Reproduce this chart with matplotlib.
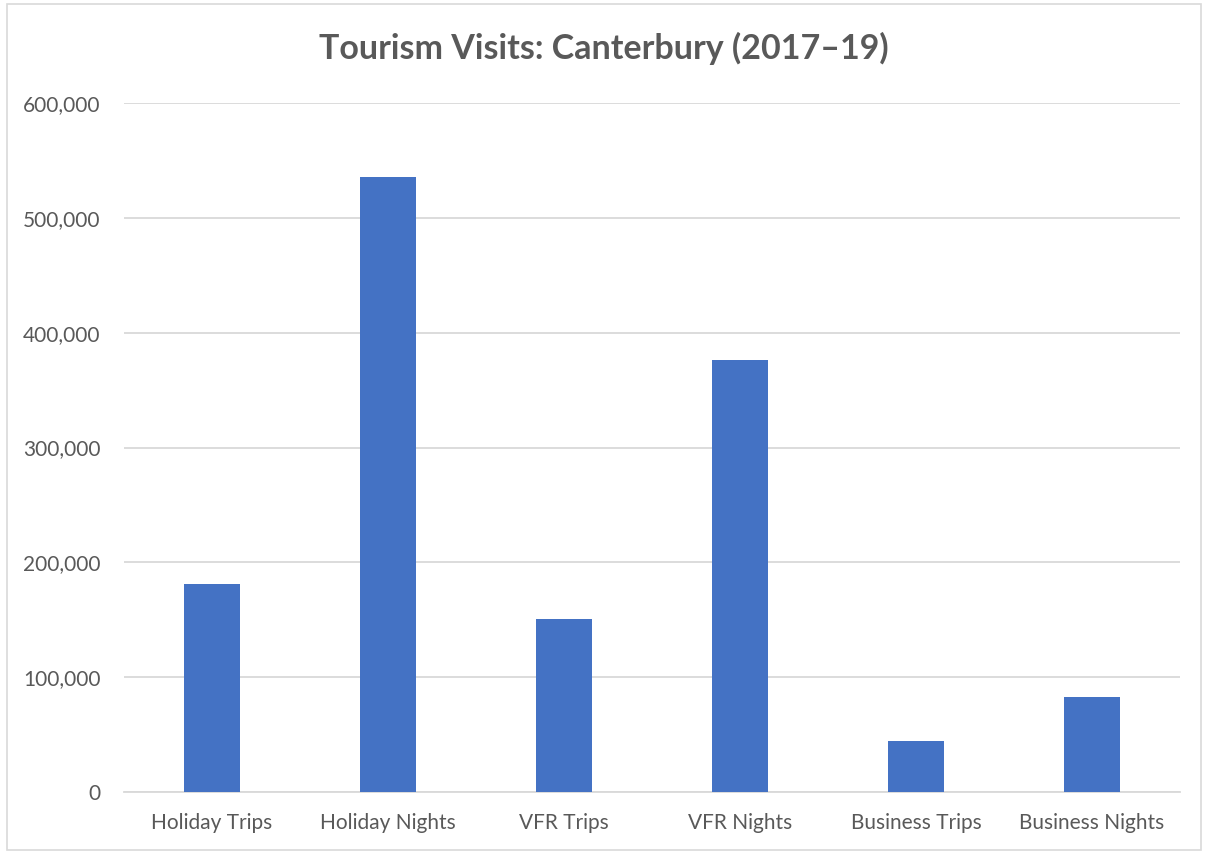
import matplotlib.pyplot as plt
from matplotlib.patches import Rectangle
from matplotlib.ticker import FuncFormatter

categories = ['Holiday Trips', 'Holiday Nights', 'VFR Trips', 'VFR Nights',
              'Business Trips', 'Business Nights']
visits = [181000, 535500, 150700, 376200, 44400, 82700]
yticks = [0, 100000, 200000, 300000, 400000, 500000, 600000]

plt.rcParams['font.family'] = ['Lato', 'DejaVu Sans']
grey = '#595959'

fig = plt.figure(figsize=(12.08, 8.52), dpi=100)
ax = fig.add_axes([124 / 1208, 1 - 792 / 852, (1180 - 124) / 1208, (792 - 103) / 852])

# chart border like excel
fig.patches.append(Rectangle((7 / 1208, 2 / 852), 1 - 14 / 1208, 1 - 6 / 852,
                             transform=fig.transFigure, fill=False,
                             edgecolor='#d9d9d9', linewidth=1.2))

x = range(len(categories))
ax.bar(x, visits, width=0.32, color='#4472C4', zorder=3)

ax.set_xlim(-0.5, len(categories) - 0.5)
ax.set_ylim(0, 600000)
ax.set_yticks(yticks)
ax.yaxis.set_major_formatter(FuncFormatter(lambda v, p: f'{int(v):,}'))
ax.set_xticks(list(x))
ax.set_xticklabels(categories)

ax.grid(axis='y', color='#d9d9d9', linewidth=1.3, zorder=0)
for s in ['top', 'right', 'left']:
    ax.spines[s].set_visible(False)
ax.spines['bottom'].set_color('#d9d9d9')
ax.spines['bottom'].set_linewidth(1.3)
ax.tick_params(axis='both', length=0, labelsize=15, labelcolor=grey)
ax.tick_params(axis='y', pad=17)
ax.tick_params(axis='x', pad=15)

fig.text(0.5, 1 - 48 / 852, 'Tourism Visits: Canterbury (2017–19)',
         ha='center', va='center', fontsize=24.5, fontweight='bold', color=grey)

fig.savefig('out.png', dpi=100)
